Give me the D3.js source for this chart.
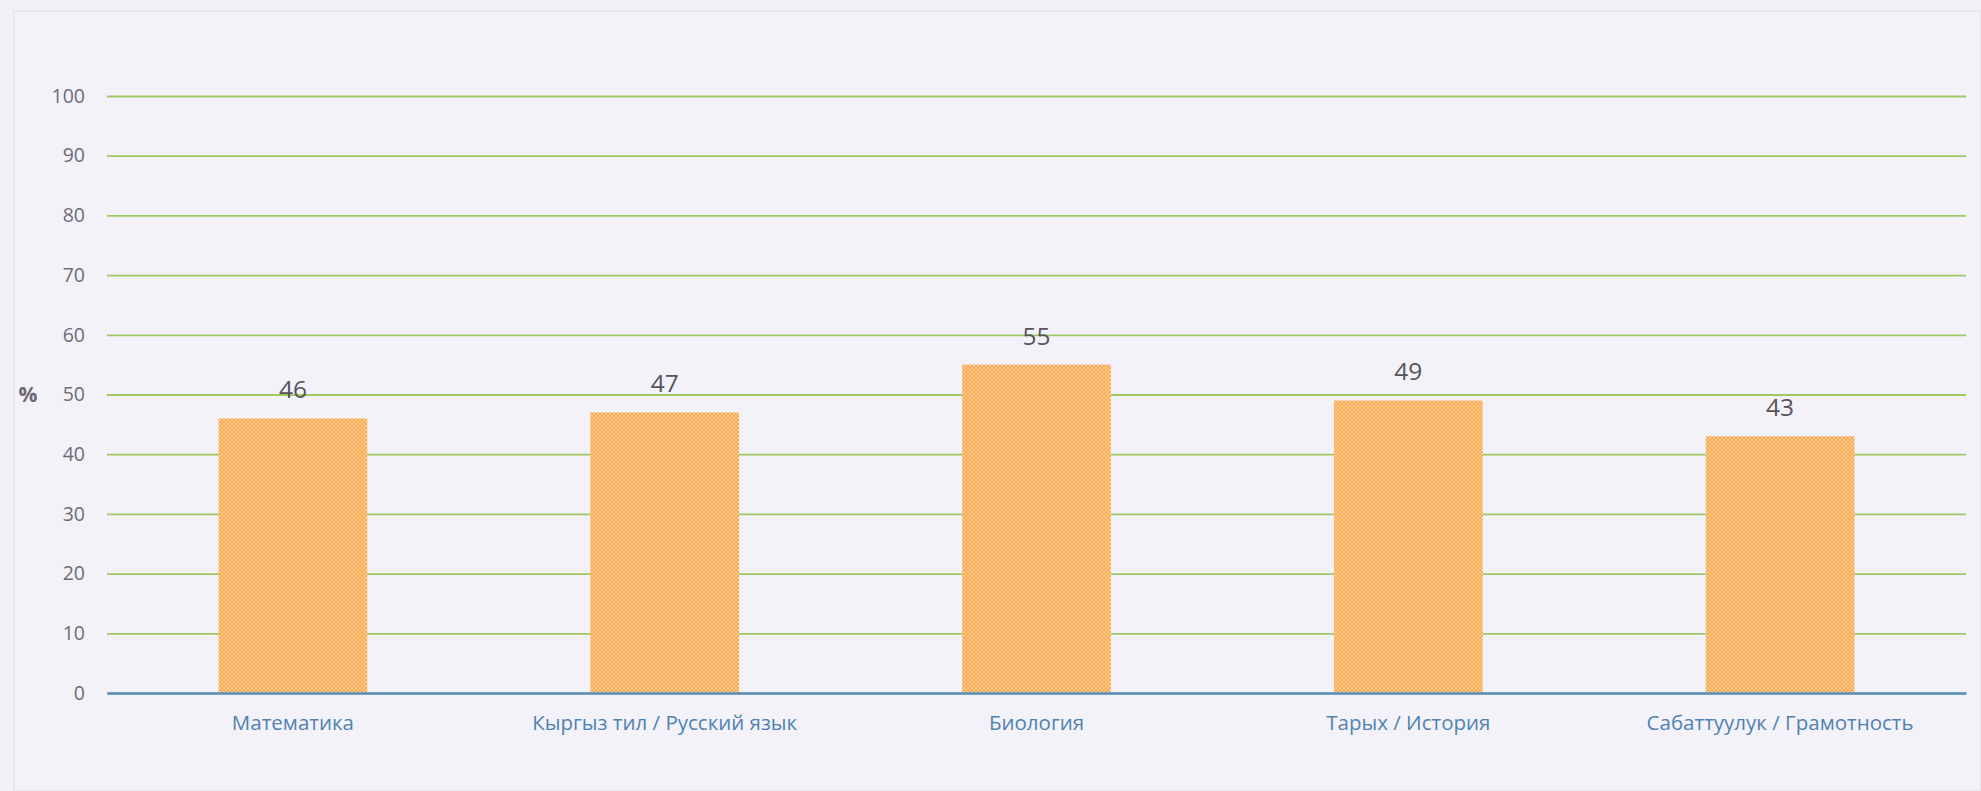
<!DOCTYPE html>
<html>
<head>
<meta charset="utf-8">
<script src="https://cdn.jsdelivr.net/npm/d3@7"></script>
<style>
  html, body { margin: 0; padding: 0; background: #f3f1f8; }
  svg { display: block; }
</style>
</head>
<body>
<svg id="chart" width="1981" height="791"></svg>
<script>
const categories = ["Математика", "Кыргыз тил / Русский язык", "Биология", "Тарых / История", "Сабаттуулук / Грамотность"];
const values = [46, 47, 55, 49, 43];
const yTicks = [0, 10, 20, 30, 40, 50, 60, 70, 80, 90, 100];
const yAxisLabel = "%";

const W = 1981, H = 791;
const margin = { left: 107, right: 15, top: 96, bottom: 98 };
const svg = d3.select("#chart");

// faint frame
svg.append("rect").attr("x", 14).attr("y", 11).attr("width", W - 14).attr("height", H - 11)
  .attr("fill", "#f4f2f9").attr("stroke", "#e4e2ea").attr("stroke-width", 1.5);

const defs = svg.append("defs");
const pat = defs.append("pattern").attr("id", "hatch").attr("patternUnits", "userSpaceOnUse")
  .attr("width", 4).attr("height", 4);
pat.append("rect").attr("width", 4).attr("height", 4).attr("fill", "#f9a84c");
pat.append("path").attr("d", "M0,0 L4,4 M4,0 L0,4").attr("stroke", "#fcd2a2").attr("stroke-width", 0.8);

const x = d3.scaleBand().domain(categories).range([margin.left, W - margin.right]).paddingInner(0.6).paddingOuter(0.3);
const y = d3.scaleLinear().domain([0, 100]).range([H - margin.bottom, margin.top]);

// gridlines
const grid = svg.append("g").attr("transform", `translate(${margin.left},0)`)
  .call(d3.axisLeft(y).tickValues(yTicks).tickSize(-(W - margin.left - margin.right)).tickFormat(""));
grid.select(".domain").remove();
grid.selectAll(".tick line").attr("stroke", "#a0c862").attr("stroke-width", 1.8);

// y tick labels
const yAx = svg.append("g").attr("transform", `translate(${margin.left - 22},0)`)
  .call(d3.axisLeft(y).tickValues(yTicks).tickSize(0).tickPadding(0));
yAx.select(".domain").remove();
yAx.selectAll("text").attr("fill", "#6e6c76").attr("font-family", "Open Sans, sans-serif")
  .attr("font-size", 19.5).attr("text-anchor", "end");

// % label
svg.append("text").attr("x", 28).attr("y", y(50)).attr("dy", "0.35em").attr("text-anchor", "middle")
  .attr("fill", "#6a6870").attr("font-family", "Open Sans, sans-serif").attr("font-weight", "bold")
  .attr("font-size", 21).text(yAxisLabel);

// bars
svg.append("g").selectAll("rect").data(values).join("rect")
  .attr("x", (d, i) => x(categories[i]))
  .attr("y", d => y(d))
  .attr("width", x.bandwidth())
  .attr("height", d => y(0) - y(d))
  .attr("fill", "url(#hatch)");

// value labels
svg.append("g").selectAll("text").data(values).join("text")
  .attr("x", (d, i) => x(categories[i]) + x.bandwidth() / 2)
  .attr("y", d => y(d) - 20)
  .attr("text-anchor", "middle")
  .attr("fill", "#56545c").attr("font-family", "Open Sans, sans-serif").attr("font-size", 24.5)
  .text(d => d);

// x axis baseline
const xAx = svg.append("g").attr("transform", `translate(0,${y(0)})`)
  .call(d3.axisBottom(x).tickSize(0).tickPadding(0));
xAx.select(".domain").attr("stroke", "#5a8fc0").attr("stroke-width", 2.5);
xAx.selectAll("text").attr("fill", "#4f82b2").attr("font-family", "Open Sans, sans-serif")
  .attr("font-size", 20.5).attr("dy", 0).attr("y", 37);
</script>
</body>
</html>
